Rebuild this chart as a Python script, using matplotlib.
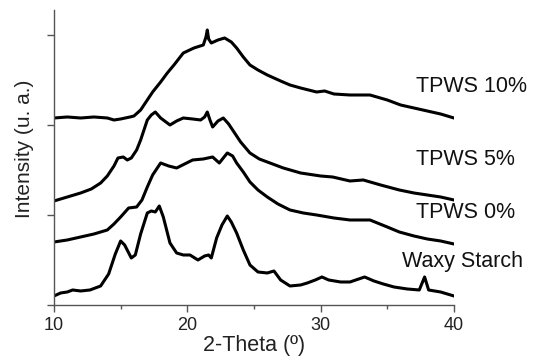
import matplotlib
matplotlib.use("Agg")
import matplotlib.pyplot as plt
from matplotlib.ticker import MultipleLocator

plt.rcParams['font.family'] = ['Liberation Sans', 'DejaVu Sans']

# 2-theta positions and intensities (a.u.)
x_10 = [10, 11, 12, 13, 14, 14.5, 15, 15.7, 16, 16.5, 17, 17.4, 18, 18.5, 19, 19.7, 20.5,
        21.2, 21.4, 21.5, 21.6, 21.8, 22.3, 22.8, 23.3, 23.7, 24.2, 24.7, 25.3, 26, 27, 27.7,
        28.5, 29.7, 30.3, 31, 32.2, 33.7, 35, 36, 37, 38, 39, 40]
y_10 = [187, 188, 187, 188, 187, 185, 186, 188, 189, 195, 205, 213, 223, 232, 240, 252, 257,
        260, 268, 275, 266, 262, 265, 267, 263, 257, 248, 240, 235, 230, 224, 220,
        217, 213, 214, 211, 210, 210, 205, 200, 197, 194, 191, 187]

x_5 = [10, 11, 12, 12.8, 13.5, 14, 14.5, 14.8, 15.2, 15.5, 15.8, 16.2, 16.5, 17, 17.3, 17.6,
       18, 18.7, 19.2, 19.7, 20.4, 21, 21.3, 21.5, 21.7, 21.9, 22.3, 22.7, 23.1, 23.4, 24,
       24.7, 25.4, 26.2, 27.2, 28.5, 30, 30.9, 32.2, 33.2, 34.5, 35.9, 37, 38, 39, 40]
y_5 = [104, 108, 112, 116, 122, 129, 139, 147, 148, 145, 147, 155, 165, 185, 190, 193,
       187, 180, 184, 187, 186, 185, 188, 193, 185, 178, 184, 187, 181, 175, 163,
       152, 146, 142, 137, 132, 129, 128, 124, 125, 120, 115, 112, 110, 108, 105]

x_0 = [10, 11, 12, 13, 14, 14.5, 15, 15.6, 16.2, 16.6, 17, 17.4, 18, 18.6, 19.2, 20.4, 21.2,
       21.9, 22.4, 23, 23.4, 23.7, 24.2, 24.7, 25.3, 26, 26.8, 27.7, 28.7, 29.7, 31, 32.2,
       33.7, 35, 35.9, 37, 38, 39, 40]
y_0 = [63, 65, 68, 71, 75, 81, 88, 97, 98, 105, 118, 130, 142, 139, 137, 145, 146,
       148, 142, 152, 149, 142, 133, 123, 115, 108, 101, 95, 92, 90, 87, 85,
       85, 78, 73, 69, 66, 64, 61]

x_waxy = [10, 10.5, 11, 11.4, 12, 12.7, 13.5, 14.1, 14.6, 15, 15.3, 15.8, 16.1, 16.5, 17,
          17.3, 17.6, 17.9, 18.2, 18.7, 19.2, 19.7, 20.2, 20.8, 21.3, 21.6, 21.8, 22.2, 22.6,
          23, 23.3, 23.7, 24.2, 24.7, 25.3, 26, 26.5, 27, 27.7, 28.5, 29, 29.6, 30.1, 30.6,
          31.5, 32.2, 33.3, 34, 34.7, 35.5, 36.5, 37.4, 37.8, 38.1, 39, 40]
y_waxy = [9, 12, 13, 15, 14, 15, 19, 31, 51, 64, 60, 47, 50, 71, 92,
          94, 93, 99, 88, 62, 52, 50, 50, 45, 49, 50, 47, 67, 80,
          89, 83, 72, 55, 40, 33, 32, 34, 25, 19, 20, 22, 25, 28, 25,
          23, 23, 28, 24, 21, 18, 16, 15, 28, 15, 13, 9]

labels = ['TPWS 10%', 'TPWS 5%', 'TPWS 0%', 'Waxy Starch']
label_x = [37.15, 37.15, 37.15, 36.1]
label_y = [218, 145, 92, 43]

fig = plt.figure(figsize=(5.43, 3.57), dpi=100)
ax = fig.add_axes([0.0994, 0.1457, 0.7366, 0.8263])

for xs, ys in [(x_10, y_10), (x_5, y_5), (x_0, y_0), (x_waxy, y_waxy)]:
    ax.plot(xs, ys, color='black', lw=2.2, solid_joinstyle='round')

for t, lx, ly in zip(labels, label_x, label_y):
    ax.text(lx, ly, t, ha='left', va='center', fontsize=15.5, color='#111111', clip_on=False)

ax.set_xlim(10, 40)
ax.set_ylim(0, 295)
ax.xaxis.set_major_locator(MultipleLocator(10))
ax.xaxis.set_minor_locator(MultipleLocator(5))
ax.yaxis.set_major_locator(MultipleLocator(90))
ax.set_yticklabels([])
ax.tick_params(axis='both', which='major', length=5, width=1, color='#555555',
               labelsize=13, direction='out', labelcolor='#222222')
ax.tick_params(axis='x', which='minor', length=3, width=1, color='#555555', direction='out')
for s in ['top', 'right']:
    ax.spines[s].set_visible(False)
for s in ['left', 'bottom']:
    ax.spines[s].set_color('#555555')
    ax.spines[s].set_linewidth(1.0)

ax.set_xlabel('2-Theta (º)', fontsize=15.5, labelpad=1, color='#222222')
ax.set_ylabel('Intensity (u. a.)', fontsize=15, color='#222222')
ax.yaxis.set_label_coords(-0.05, 0.53)

fig.savefig('out.png', dpi=100)
